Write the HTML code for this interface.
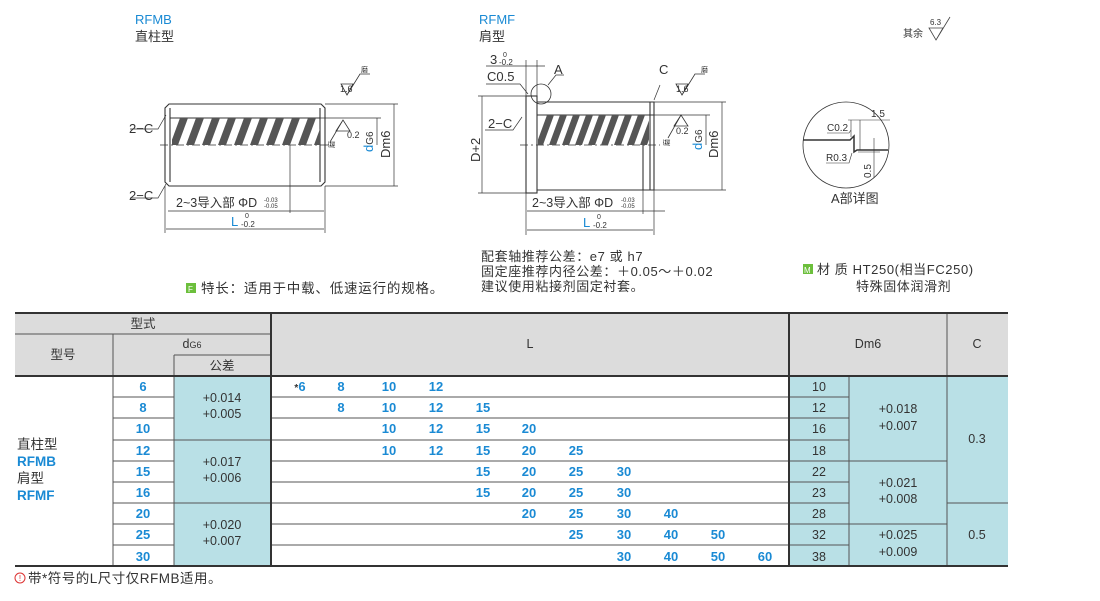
<!DOCTYPE html>
<html><head><meta charset="utf-8"><style>
html,body{margin:0;padding:0;background:#fff;}
svg{display:block;font-family:"Liberation Sans","Noto Sans CJK SC",sans-serif;}
.b{fill:#1a8ad4}
.k{fill:#333}
</style></head><body>
<svg width="1100" height="601" viewBox="0 0 1100 601" xmlns="http://www.w3.org/2000/svg">
<defs>
<clipPath id="c1"><rect x="172" y="118" width="148" height="27"/></clipPath>
<clipPath id="c2"><rect x="538" y="115" width="111" height="30"/></clipPath>
</defs>
<!-- titles -->
<text x="135" y="24" font-size="13" class="b">RFMB</text>
<text x="135" y="41" font-size="13" class="k">直柱型</text>
<text x="479" y="24" font-size="13" class="b">RFMF</text>
<text x="479" y="41" font-size="13" class="k">肩型</text>
<text x="903" y="37" font-size="10" class="k">其余</text>
<text x="930" y="25" font-size="8" class="k">6.3</text>
<path d="M929,28 L943,28 L936,40 Z M936,40 L950,17" fill="none" stroke="#444" stroke-width="0.8"/>

<!-- RFMB drawing -->
<g stroke="#333" stroke-width="1.1" fill="none">
<path d="M169,104 L321,104 L325,108 L325,182 L321,186 L169,186 L165,182 L165,108 Z"/>
<line x1="170" y1="108" x2="170" y2="182"/><line x1="320" y1="108" x2="320" y2="182"/>
<line x1="170" y1="118" x2="320" y2="118"/>
<line x1="160" y1="145" x2="330" y2="145" stroke-dasharray="8,3,2,3" stroke-width="0.8"/>
<line x1="325" y1="104" x2="398" y2="104" stroke-width="0.7"/>
<line x1="325" y1="186" x2="398" y2="186" stroke-width="0.7"/>
<line x1="320" y1="118" x2="381" y2="118" stroke-width="0.7"/>
<line x1="394" y1="104" x2="394" y2="186" stroke-width="0.7"/>
<line x1="377" y1="118" x2="377" y2="145" stroke-width="0.7"/>
<line x1="165" y1="186" x2="165" y2="233" stroke-width="0.7"/>
<line x1="325" y1="186" x2="325" y2="233" stroke-width="0.7"/>
<line x1="290" y1="145" x2="290" y2="213" stroke-width="0.7"/>
<line x1="166" y1="229" x2="324" y2="229" stroke-width="0.7"/>
<line x1="290" y1="211" x2="324" y2="211" stroke-width="0.7"/>
<line x1="168" y1="211" x2="290" y2="211" stroke-width="0.7"/>
<path d="M130,129 L158,129 L166,115" stroke-width="0.7"/>
<path d="M130,198 L158,198 L166,184" stroke-width="0.7"/>
<path d="M341,84 L347,95 L353,84 Z M347,95 L360,74 L370,74" stroke-width="0.8"/>
<path d="M336,131 L343,120 L350,131 Z M343,120 L330,142" stroke-width="0.8"/>
</g>
<g clip-path="url(#c1)" fill="#555">
<polygon points="170,145 178,145 188,118 180,118"/><polygon points="186,145 194,145 204,118 196,118"/><polygon points="202,145 210,145 220,118 212,118"/><polygon points="218,145 226,145 236,118 228,118"/><polygon points="234,145 242,145 252,118 244,118"/><polygon points="250,145 258,145 268,118 260,118"/><polygon points="266,145 274,145 284,118 276,118"/><polygon points="282,145 290,145 300,118 292,118"/><polygon points="298,145 306,145 316,118 308,118"/><polygon points="314,145 322,145 332,118 324,118"/>
</g>
<text x="129" y="133" font-size="13" class="k">2−C</text>
<text x="129" y="200" font-size="13" class="k">2−C</text>
<text x="340" y="92" font-size="9" class="k">1.6</text>
<text x="361" y="72" font-size="7" class="k">磨</text>
<text x="347" y="138" font-size="9" class="k">0.2</text>
<text x="334" y="148" font-size="7" class="k" transform="rotate(-90 334 148)">磨</text>
<text x="373" y="152" font-size="13" class="b" transform="rotate(-90 373 152)">d<tspan class="k" font-size="10">G6</tspan></text>
<text x="390" y="158" font-size="13" class="k" transform="rotate(-90 390 158)">Dm6</text>
<text x="176" y="207" font-size="12.5" class="k">2~3导入部 ΦD</text>
<text x="264" y="202" font-size="6" class="k">-0.03</text><text x="264" y="208" font-size="6" class="k">-0.05</text>
<text x="231" y="226" font-size="13" class="b">L</text>
<text x="245" y="218" font-size="7" class="k">0</text><text x="241" y="227" font-size="8" class="k">-0.2</text>

<!-- RFMF drawing -->
<g stroke="#333" stroke-width="1.1" fill="none">
<rect x="526" y="96" width="11" height="97"/>
<path d="M537,102 L654,102 L654,190 L537,190"/>
<line x1="650" y1="102" x2="650" y2="190"/>
<line x1="643" y1="145" x2="643" y2="190"/>
<line x1="537" y1="115" x2="654" y2="115"/>
<line x1="520" y1="145" x2="660" y2="145" stroke-dasharray="8,3,2,3" stroke-width="0.8"/>
<circle cx="541" cy="94" r="10" stroke-width="0.8"/>
<line x1="478" y1="96" x2="526" y2="96" stroke-width="0.7"/>
<line x1="478" y1="193" x2="526" y2="193" stroke-width="0.7"/>
<line x1="482" y1="96" x2="482" y2="193" stroke-width="0.7"/>
<line x1="654" y1="102" x2="726" y2="102" stroke-width="0.7"/>
<line x1="654" y1="190" x2="726" y2="190" stroke-width="0.7"/>
<line x1="654" y1="115" x2="710" y2="115" stroke-width="0.7"/>
<line x1="722" y1="102" x2="722" y2="190" stroke-width="0.7"/>
<line x1="706" y1="115" x2="706" y2="145" stroke-width="0.7"/>
<line x1="526" y1="60" x2="526" y2="235" stroke-width="0.7"/>
<line x1="537" y1="60" x2="537" y2="96" stroke-width="0.7"/>
<line x1="654" y1="190" x2="654" y2="235" stroke-width="0.7"/>
<line x1="643" y1="190" x2="643" y2="214" stroke-width="0.7"/>
<line x1="527" y1="230" x2="653" y2="230" stroke-width="0.7"/>
<line x1="527" y1="211" x2="665" y2="211" stroke-width="0.7"/>
<line x1="486" y1="66" x2="545" y2="66" stroke-width="0.7"/>
<path d="M486,84 L520,84 L528,94" stroke-width="0.7"/>
<path d="M485,130 L513,130 L522,117" stroke-width="0.7"/>
<path d="M548,85 L556,75 L564,75" stroke-width="0.7"/>
<path d="M654,100 L660,85" stroke-width="0.7"/>
<path d="M676,84 L682,95 L688,84 Z M682,95 L695,74 L705,74" stroke-width="0.8"/>
<path d="M674,126 L681,115 L688,126 Z M681,115 L668,138" stroke-width="0.8"/>
</g>
<g clip-path="url(#c2)" fill="#555">
<polygon points="536,145 543,145 554,115 547,115"/><polygon points="549,145 556,145 567,115 560,115"/><polygon points="562,145 569,145 580,115 573,115"/><polygon points="575,145 582,145 593,115 586,115"/><polygon points="588,145 595,145 606,115 599,115"/><polygon points="601,145 608,145 619,115 612,115"/><polygon points="614,145 621,145 632,115 625,115"/><polygon points="627,145 634,145 645,115 638,115"/><polygon points="640,145 647,145 658,115 651,115"/>
</g>
<text x="490" y="64" font-size="13" class="k">3</text>
<text x="503" y="57" font-size="7" class="k">0</text><text x="499" y="65" font-size="8" class="k">-0.2</text>
<text x="487" y="81" font-size="13" class="k">C0.5</text>
<text x="554" y="74" font-size="13" class="k">A</text>
<text x="659" y="74" font-size="13" class="k">C</text>
<text x="488" y="128" font-size="13" class="k">2−C</text>
<text x="480" y="162" font-size="13" class="k" transform="rotate(-90 480 162)">D+2</text>
<text x="676" y="92" font-size="9" class="k">1.6</text>
<text x="701" y="72" font-size="7" class="k">磨</text>
<text x="676" y="134" font-size="9" class="k">0.2</text>
<text x="669" y="146" font-size="7" class="k" transform="rotate(-90 669 146)">磨</text>
<text x="702" y="150" font-size="13" class="b" transform="rotate(-90 702 150)">d<tspan class="k" font-size="10">G6</tspan></text>
<text x="718" y="158" font-size="13" class="k" transform="rotate(-90 718 158)">Dm6</text>
<text x="532" y="207" font-size="12.5" class="k">2~3导入部 ΦD</text>
<text x="621" y="202" font-size="6" class="k">-0.03</text><text x="621" y="208" font-size="6" class="k">-0.05</text>
<text x="583" y="227" font-size="13" class="b">L</text>
<text x="597" y="219" font-size="7" class="k">0</text><text x="593" y="228" font-size="8" class="k">-0.2</text>

<!-- detail A -->
<g stroke="#333" fill="none">
<circle cx="846" cy="145" r="43" stroke-width="0.8"/>
<path d="M803,140 L850,140 L854,136 L854,152 L857,150 L888,150" stroke-width="1.5"/>
<line x1="848" y1="120" x2="890" y2="120" stroke-width="0.6"/>
<line x1="860" y1="120" x2="860" y2="150" stroke-width="0.6"/>
<line x1="851" y1="120" x2="851" y2="137" stroke-width="0.6"/>
<path d="M827,133 L849,133 L851,130" stroke-width="0.6"/>
<path d="M826,163 L849,163 L852,153" stroke-width="0.6"/>
<line x1="874" y1="138" x2="874" y2="178" stroke-width="0.6"/>
<line x1="858" y1="152" x2="880" y2="152" stroke-width="0.6"/>
</g>
<text x="871" y="117" font-size="10" class="k">1.5</text>
<text x="827" y="131" font-size="10" class="k">C0.2</text>
<text x="826" y="161" font-size="10" class="k">R0.3</text>
<text x="871" y="178" font-size="10" class="k" transform="rotate(-90 871 178)">0.5</text>
<text x="831" y="203" font-size="13" class="k">A部详图</text>

<!-- notes -->
<rect x="186" y="283" width="10" height="10" fill="#6cbf3c"/><text x="188" y="292" font-size="8" fill="#fff">F</text>
<text x="201" y="293" font-size="13.5" class="k" letter-spacing="0.8">特长：适用于中载、低速运行的规格。</text>
<text x="481" y="261" font-size="13" class="k" letter-spacing="0.6">配套轴推荐公差：e7 或 h7</text>
<text x="481" y="276" font-size="13" class="k" letter-spacing="0.6">固定座推荐内径公差：＋0.05～＋0.02</text>
<text x="481" y="291" font-size="13" class="k" letter-spacing="0.6">建议使用粘接剂固定衬套。</text>
<rect x="803" y="264" width="10" height="10" fill="#6cbf3c"/><text x="804" y="273" font-size="8" fill="#fff">M</text>
<text x="817" y="274" font-size="13" class="k" letter-spacing="0.6">材 质  HT250(相当FC250)</text>
<text x="856" y="291" font-size="13" class="k" letter-spacing="0.6">特殊固体润滑剂</text>

<!-- table -->
<rect x="15" y="313" width="993" height="63" fill="#dcdcdc"/>
<rect x="174" y="376" width="97" height="190" fill="#b9e0e6"/>
<rect x="789" y="376" width="219" height="190" fill="#b9e0e6"/>
<g stroke="#555" stroke-width="1">
<line x1="15" y1="334" x2="271" y2="334"/>
<line x1="174" y1="355" x2="271" y2="355"/>
<line x1="113" y1="334" x2="113" y2="566"/>
<line x1="174" y1="355" x2="174" y2="566"/>
<line x1="849" y1="376" x2="849" y2="566"/>
<line x1="947" y1="313" x2="947" y2="566"/>
</g>
<g stroke="#555" stroke-width="1">
<line x1="113" y1="397" x2="174" y2="397"/><line x1="113" y1="418" x2="174" y2="418"/><line x1="113" y1="440" x2="271" y2="440"/><line x1="113" y1="461" x2="174" y2="461"/><line x1="113" y1="482" x2="174" y2="482"/><line x1="113" y1="503" x2="271" y2="503"/><line x1="113" y1="524" x2="174" y2="524"/><line x1="113" y1="545" x2="174" y2="545"/>
<line x1="271" y1="397" x2="849" y2="397"/><line x1="271" y1="418" x2="849" y2="418"/><line x1="271" y1="440" x2="849" y2="440"/><line x1="271" y1="461" x2="947" y2="461"/><line x1="271" y1="482" x2="849" y2="482"/><line x1="271" y1="503" x2="849" y2="503"/><line x1="271" y1="524" x2="947" y2="524"/><line x1="271" y1="545" x2="849" y2="545"/>
<line x1="947" y1="503" x2="1008" y2="503"/>
</g>
<g stroke="#333" stroke-width="2">
<line x1="15" y1="313" x2="1008" y2="313"/>
<line x1="15" y1="376" x2="1008" y2="376"/>
<line x1="15" y1="566" x2="1008" y2="566"/>
<line x1="271" y1="313" x2="271" y2="566"/>
<line x1="789" y1="313" x2="789" y2="566"/>
</g>
<g font-size="12.5" class="k" text-anchor="middle">
<text x="143" y="328">型式</text>
<text x="63" y="359">型号</text>
<text x="192" y="348">d<tspan font-size="9">G6</tspan></text>
<text x="222" y="370">公差</text>
<text x="530" y="348">L</text>
<text x="868" y="348">Dm6</text>
<text x="977" y="348">C</text>
<text x="222" y="402">+0.014</text><text x="222" y="418">+0.005</text>
<text x="222" y="466">+0.017</text><text x="222" y="482">+0.006</text>
<text x="222" y="529">+0.020</text><text x="222" y="545">+0.007</text>
<text x="898" y="413">+0.018</text><text x="898" y="430">+0.007</text>
<text x="898" y="487">+0.021</text><text x="898" y="503">+0.008</text>
<text x="898" y="539">+0.025</text><text x="898" y="556">+0.009</text>
<text x="977" y="443">0.3</text><text x="977" y="539">0.5</text>
<text x="819" y="391">10</text><text x="819" y="412">12</text><text x="819" y="433">16</text><text x="819" y="455">18</text><text x="819" y="476">22</text><text x="819" y="497">23</text><text x="819" y="518">28</text><text x="819" y="539">32</text><text x="819" y="561">38</text>
</g>
<g font-size="13" class="b" text-anchor="middle" font-weight="bold">
<text x="143" y="391">6</text><text x="143" y="412">8</text><text x="143" y="433">10</text><text x="143" y="455">12</text><text x="143" y="476">15</text><text x="143" y="497">16</text><text x="143" y="518">20</text><text x="143" y="539">25</text><text x="143" y="561">30</text>
<text x="300" y="391"><tspan class="k" font-size="10">*</tspan>6</text><text x="341" y="391">8</text><text x="389" y="391">10</text><text x="436" y="391">12</text>
<text x="341" y="412">8</text><text x="389" y="412">10</text><text x="436" y="412">12</text><text x="483" y="412">15</text>
<text x="389" y="433">10</text><text x="436" y="433">12</text><text x="483" y="433">15</text><text x="529" y="433">20</text>
<text x="389" y="455">10</text><text x="436" y="455">12</text><text x="483" y="455">15</text><text x="529" y="455">20</text><text x="576" y="455">25</text>
<text x="483" y="476">15</text><text x="529" y="476">20</text><text x="576" y="476">25</text><text x="624" y="476">30</text>
<text x="483" y="497">15</text><text x="529" y="497">20</text><text x="576" y="497">25</text><text x="624" y="497">30</text>
<text x="529" y="518">20</text><text x="576" y="518">25</text><text x="624" y="518">30</text><text x="671" y="518">40</text>
<text x="576" y="539">25</text><text x="624" y="539">30</text><text x="671" y="539">40</text><text x="718" y="539">50</text>
<text x="624" y="561">30</text><text x="671" y="561">40</text><text x="718" y="561">50</text><text x="765" y="561">60</text>
</g>
<text x="17" y="449" font-size="13.5" class="k">直柱型</text>
<text x="17" y="466" font-size="13.5" class="b" font-weight="bold">RFMB</text>
<text x="17" y="483" font-size="13.5" class="k">肩型</text>
<text x="17" y="500" font-size="13.5" class="b" font-weight="bold">RFMF</text>
<circle cx="20" cy="578" r="5" fill="none" stroke="#d33" stroke-width="1"/><text x="20" y="581" font-size="8" fill="#d33" text-anchor="middle">!</text>
<text x="28" y="583" font-size="13.5" class="k" letter-spacing="0.5">带*符号的L尺寸仅RFMB适用。</text>
</svg>
</body></html>
